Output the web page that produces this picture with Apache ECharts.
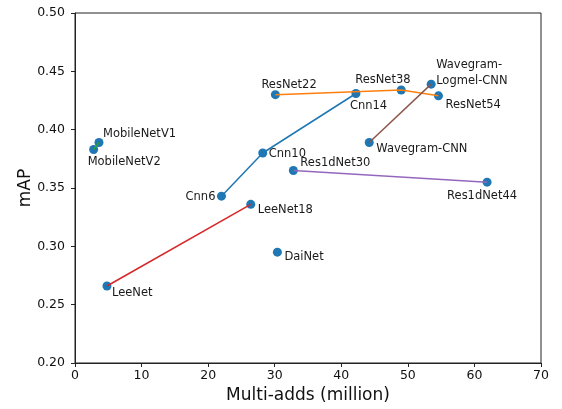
<!DOCTYPE html>
<html><head><meta charset="utf-8">
<script src="https://cdn.jsdelivr.net/npm/echarts@6/dist/echarts.min.js"></script>
<style>html,body{margin:0;padding:0;background:#fff}#c{width:562px;height:409px}</style>
</head><body><div id="c"></div>
<script>
// Data
const names = ['MobileNetV1','MobileNetV2','ResNet22','Cnn10','Res1dNet30','Cnn6','LeeNet18','DaiNet','LeeNet','Cnn14','ResNet38','Wavegram-Logmel-CNN','ResNet54','Wavegram-CNN','Res1dNet44'];
const multiAdds = [3.6, 2.8, 30.1, 28.2, 32.8, 22.0, 26.4, 30.4, 4.8, 42.2, 49.0, 53.5, 54.6, 44.2, 61.9];
const mAP = [0.389, 0.383, 0.430, 0.380, 0.365, 0.343, 0.336, 0.295, 0.266, 0.431, 0.434, 0.439, 0.429, 0.389, 0.355];
const groups = [
  ['Cnn6','Cnn10','Cnn14'],
  ['ResNet22','ResNet38','ResNet54'],
  ['MobileNetV1','MobileNetV2'],
  ['LeeNet','LeeNet18'],
  ['Res1dNet30','Res1dNet44'],
  ['Wavegram-CNN','Wavegram-Logmel-CNN']
];
const xTicks = [0,10,20,30,40,50,60,70];
const yTicks = [0.20,0.25,0.30,0.35,0.40,0.45,0.50];

// Styling / placement
const groupColors = ['#1f77b4','#ff7f0e','#2ca02c','#d62728','#9467bd','#8c564b'];
const labelText = {'Wavegram-Logmel-CNN':'Wavegram-\nLogmel-CNN'};
const placement = {
  'MobileNetV1':['left',4,-8],
  'MobileNetV2':['left',-6,13],
  'ResNet22':['left',-14,-10],
  'Cnn10':['left',6,1],
  'Res1dNet30':['left',7,-7],
  'Cnn6':['right',-6,1],
  'LeeNet18':['left',7,6],
  'DaiNet':['left',7,5],
  'LeeNet':['left',5,7],
  'Cnn14':['left',-6,13],
  'ResNet38':['left',-46,-10],
  'Wavegram-Logmel-CNN':['left',5,-11],
  'ResNet54':['left',7,9],
  'Wavegram-CNN':['left',7,7],
  'Res1dNet44':['left',-40,14]
};
const font = 'DejaVu Sans';
const idx = n => names.indexOf(n);

const scatterData = names.map((n,i) => {
  const p = placement[n];
  return {
    value: [multiAdds[i], mAP[i]],
    name: n,
    label: {show:true, position:'inside', align:p[0], verticalAlign:'middle', offset:[p[1],p[2]],
      formatter: labelText[n] || n}
  };
});

const series = [{
  type:'scatter', data: scatterData, symbolSize: 9, z: 2,
  itemStyle:{color:'#1f77b4', opacity:1},
  label:{color:'#1a1a1a', fontFamily:font, fontSize:11.5, lineHeight:16},
  emphasis:{disabled:true}
}];
groups.forEach((g,k) => {
  series.push({
    type:'line', z: 3, symbol:'none', silent:true,
    data: g.map(n => [multiAdds[idx(n)], mAP[idx(n)]]),
    lineStyle:{color:groupColors[k], width:1.5}
  });
});

const chart = echarts.init(document.getElementById('c'));
chart.setOption({
  animation:false,
  grid:{left:75, right:21, top:13, bottom:45, show:true, borderColor:'#222', borderWidth:1},
  xAxis:{type:'value', min:xTicks[0], max:xTicks[xTicks.length-1], interval:10,
    name:'Multi-adds (million)', nameLocation:'middle', nameGap:24, nameMoveOverlap:false,
    nameTextStyle:{fontFamily:font, fontSize:17, color:'#111'},
    axisLine:{show:true, lineStyle:{color:'#222'}}, axisTick:{show:true, inside:false, length:4, lineStyle:{color:'#222'}},
    axisLabel:{fontFamily:font, fontSize:12.5, color:'#111', margin:6},
    splitLine:{show:false}},
  yAxis:{type:'value', min:yTicks[0], max:yTicks[yTicks.length-1], interval:0.05,
    name:'mAP', nameLocation:'middle', nameGap:41, nameMoveOverlap:false,
    nameTextStyle:{fontFamily:font, fontSize:17, color:'#111'},
    axisLine:{show:true, lineStyle:{color:'#222'}}, axisTick:{show:true, inside:false, length:4, lineStyle:{color:'#222'}},
    axisLabel:{fontFamily:font, fontSize:12.5, color:'#111', margin:10, formatter:v=>v.toFixed(2)},
    splitLine:{show:false}},
  series: series
});
</script></body></html>
